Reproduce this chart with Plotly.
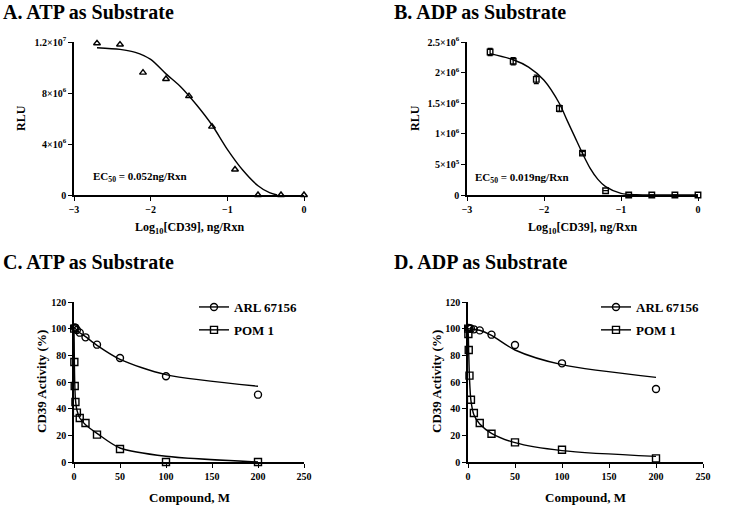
import plotly.graph_objects as go

# ---------------- data ----------------
# Panel A: ATP as substrate (log10 [CD39], RLU)
a_x = [-2.7, -2.4, -2.1, -1.8, -1.5, -1.2, -0.9, -0.6, -0.3, 0.0]
a_y = [11.9e6, 11.8e6, 9.6e6, 9.1e6, 7.76e6, 5.36e6, 2.0e6, 0, 0, 0]
a_fit_x = [-2.7, -2.4, -2.2, -2.0, -1.8, -1.6, -1.4, -1.2, -1.0, -0.8, -0.6, -0.45, -0.35]
a_fit_y = [11.55e6, 11.42e6, 11.19e6, 10.64e6, 9.5e6, 8.44e6, 7.06e6, 5.49e6, 3.58e6,
           1.96e6, 0.73e6, 0.18e6, 0]

# Panel B: ADP as substrate
b_x = [-2.7, -2.4, -2.1, -1.8, -1.5, -1.2, -0.9, -0.6, -0.3, 0.0]
b_y = [2.337e6, 2.185e6, 1.89e6, 1.413e6, 0.685e6, 0.07e6, 0, 0, 0, 0]
b_err = [0.06e6, 0.06e6, 0.07e6, 0.05e6, 0.03e6, 0, 0, 0, 0, 0]
b_fit_x = [-2.7, -2.4, -2.2, -2.0, -1.8, -1.7, -1.6, -1.5, -1.4, -1.3, -1.2, -1.0, -0.8, -0.5, 0.0]
b_fit_y = [2.31e6, 2.21e6, 2.09e6, 1.875e6, 1.495e6, 1.22e6, 0.95e6, 0.68e6, 0.435e6,
           0.255e6, 0.136e6, 0.027e6, 0.004e6, 0, 0]

# Panel C: ATP, inhibitors
c_arl_x = [0.78, 1.56, 3.125, 6.25, 12.5, 25, 50, 100, 200]
c_arl_y = [101, 100.5, 99, 97, 93.5, 88, 78, 64.3, 50.5]
c_arl_fit_y = [100.5, 100, 99, 97, 94, 87.5, 77, 65.5, 56.8]
c_pom_x = [0.2, 0.39, 0.78, 1.56, 3.125, 6.25, 12.5, 25, 50, 100, 200]
c_pom_y = [100, 75, 57, 45, 37, 33, 29.3, 20.5, 9.8, 0, 0]
c_pom_fit_x = [0, 0.2, 0.39, 0.78, 1.56, 3.125, 6.25, 12.5, 25, 50, 100, 200]
c_pom_fit_y = [100, 90, 76, 60, 47, 39, 33, 28, 21.5, 10.5, 4.3, 0]

# Panel D: ADP, inhibitors
d_arl_x = [0.78, 1.56, 3.125, 6.25, 12.5, 25, 50, 100, 200]
d_arl_y = [100.5, 100, 100, 99.5, 98.7, 95.5, 87.7, 74, 54.7]
d_arl_fit_x = [0, 3.125, 6.25, 12.5, 25, 50, 100, 200]
d_arl_fit_y = [100, 99.8, 99.5, 98.8, 95, 84, 73, 63.5]
d_pom_x = [0.2, 0.39, 0.78, 1.56, 3.125, 6.25, 12.5, 25, 50, 100, 200]
d_pom_y = [100, 96, 84, 64.8, 46.7, 36.7, 29.3, 21.2, 14.7, 9.2, 2.7]
d_pom_fit_x = [0, 0.39, 0.78, 1.56, 3.125, 6.25, 12.5, 25, 50, 100, 200]
d_pom_fit_y = [100, 94, 82, 63, 46, 35.5, 28.5, 21.5, 14.5, 8.5, 4.2]

a_tickvals = [0, 4e6, 8e6, 1.2e7]
a_ticktext = ["0", "4×10<sup>6</sup>", "8×10<sup>6</sup>", "1.2×10<sup>7</sup>"]
b_tickvals = [0, 5e5, 1e6, 1.5e6, 2e6, 2.5e6]
b_ticktext = ["0", "5×10<sup>5</sup>", "1×10<sup>6</sup>", "1.5×10<sup>6</sup>",
              "2×10<sup>6</sup>", "2.5×10<sup>6</sup>"]
log_ticks = [-3, -2, -1, 0]
c_xticks = [0, 50, 100, 150, 200, 250]
c_yticks = [0, 20, 40, 60, 80, 100, 120]

FONT = "Liberation Serif"
BLK = "black"
LW = 1.4

fig = go.Figure()

def line(x, y, xa, ya, shape="spline"):
    fig.add_trace(go.Scatter(x=x, y=y, mode="lines", xaxis=xa, yaxis=ya,
                             line=dict(color=BLK, width=LW, shape=shape, smoothing=0.8),
                             showlegend=False, hoverinfo="skip", cliponaxis=False))

def pts(x, y, xa, ya, sym, size, err=None):
    kw = {}
    if err is not None:
        kw["error_y"] = dict(type="data", array=err, visible=True, color=BLK,
                             thickness=1.3, width=2.5)
    fig.add_trace(go.Scatter(x=x, y=y, mode="markers", xaxis=xa, yaxis=ya,
                             marker=dict(symbol=sym, size=size, color=BLK,
                                         line=dict(color=BLK, width=1.4)),
                             showlegend=False, cliponaxis=False, **kw))

# A
line(a_fit_x, a_fit_y, "x", "y")
pts(a_x, a_y, "x", "y", "triangle-up-open", 6)
# B
line(b_fit_x, b_fit_y, "x2", "y2")
pts(b_x, b_y, "x2", "y2", "square-open", 5.5, b_err)
# C
line([0] + c_arl_x, [100.5] + c_arl_fit_y, "x3", "y3")
pts(c_arl_x, c_arl_y, "x3", "y3", "circle-open", 7)
line(c_pom_fit_x, c_pom_fit_y, "x3", "y3")
pts(c_pom_x, c_pom_y, "x3", "y3", "square-open", 7)
# D
line(d_arl_fit_x, d_arl_fit_y, "x4", "y4")
pts(d_arl_x, d_arl_y, "x4", "y4", "circle-open", 7)
line(d_pom_fit_x, d_pom_fit_y, "x4", "y4")
pts(d_pom_x, d_pom_y, "x4", "y4", "square-open", 7)

# legend-only traces
for lg, xa, ya in [("legend", "x3", "y3"), ("legend2", "x4", "y4")]:
    for name, sym in [("ARL 67156", "circle-open"), ("POM 1", "square-open")]:
        fig.add_trace(go.Scatter(x=[None], y=[None], mode="lines+markers", name=name,
                                 xaxis=xa, yaxis=ya, legend=lg, legendgroup=lg + name,
                                 marker=dict(symbol=sym, size=7, color=BLK,
                                             line=dict(color=BLK, width=1.4)),
                                 line=dict(color=BLK, width=LW)))

W, H = 736, 515
def px(x0, x1):
    return [x0 / W, x1 / W]
def py(top, bot):
    return [1 - bot / H, 1 - top / H]

axis_common = dict(showline=True, linecolor=BLK, linewidth=1.6, ticks="outside",
                   tickcolor=BLK, ticklen=4, tickwidth=1.4, showgrid=False,
                   zeroline=False, mirror=False, automargin=False,
                   tickfont=dict(family=FONT, size=10, color=BLK, weight="bold"))

legend_common = dict(font=dict(family=FONT, size=13, color=BLK, weight="bold"),
                     bgcolor="rgba(0,0,0,0)", itemwidth=30, tracegroupgap=3,
                     xanchor="left", yanchor="top")

fig.update_layout(
    width=W, height=H, margin=dict(l=0, r=0, t=0, b=0), template="none",
    paper_bgcolor="white", plot_bgcolor="white",
    xaxis=dict(domain=px(74, 304), range=[-3, 0], tickvals=log_ticks, anchor="y", **axis_common),
    yaxis=dict(domain=py(42, 195), range=[0, 1.2e7], tickvals=a_tickvals, ticktext=a_ticktext,
               anchor="x", **axis_common),
    xaxis2=dict(domain=px(467, 698), range=[-3, 0], tickvals=log_ticks, anchor="y2", **axis_common),
    yaxis2=dict(domain=py(42, 195), range=[0, 2.5e6], tickvals=b_tickvals, ticktext=b_ticktext,
                anchor="x2", **axis_common),
    xaxis3=dict(domain=px(74, 304), range=[0, 250], tickvals=c_xticks, anchor="y3", **axis_common),
    yaxis3=dict(domain=py(302, 462), range=[0, 120], tickvals=c_yticks, anchor="x3", **axis_common),
    xaxis4=dict(domain=px(468, 703), range=[0, 250], tickvals=c_xticks, anchor="y4", **axis_common),
    yaxis4=dict(domain=py(302, 462), range=[0, 120], tickvals=c_yticks, anchor="x4", **axis_common),
    legend=dict(x=194 / W, y=1 - 292 / H, **legend_common),
    legend2=dict(x=596 / W, y=1 - 292 / H, **legend_common),
)

def ann(text, x, y, size, xanchor="center", yanchor="middle", angle=0):
    fig.add_annotation(text=text, x=x / W, y=1 - y / H, xref="paper", yref="paper",
                       showarrow=False, xanchor=xanchor, yanchor=yanchor, textangle=angle,
                       font=dict(family=FONT, size=size, color=BLK, weight="bold"))

# panel titles
ann("A. ATP as Substrate", 1, 12, 20, xanchor="left")
ann("B. ADP as Substrate", 392, 12, 20, xanchor="left")
ann("C. ATP as Substrate", 1, 262, 20, xanchor="left")
ann("D. ADP as Substrate", 392, 262, 20, xanchor="left")

# axis titles
ann("RLU", 21, 118, 12, angle=-90)
ann("RLU", 415, 118, 12, angle=-90)
ann("Log<sub>10</sub>[CD39], ng/Rxn", 189, 228, 12)
ann("Log<sub>10</sub>[CD39], ng/Rxn", 582, 228, 12)
ann("CD39 Activity (%)", 41, 382, 13, angle=-90)
ann("CD39 Activity (%)", 436, 382, 13, angle=-90)
ann("Compound, M", 189, 497, 13)
ann("Compound, M", 585, 497, 13)

# EC50 labels
ann("EC<sub>50</sub> = 0.052ng/Rxn", 91, 177, 11, xanchor="left")
ann("EC<sub>50</sub> = 0.019ng/Rxn", 473, 178, 11, xanchor="left")

fig.write_html("out.html", config={"displayModeBar": False},
               post_script="document.body.style.margin='0';")
